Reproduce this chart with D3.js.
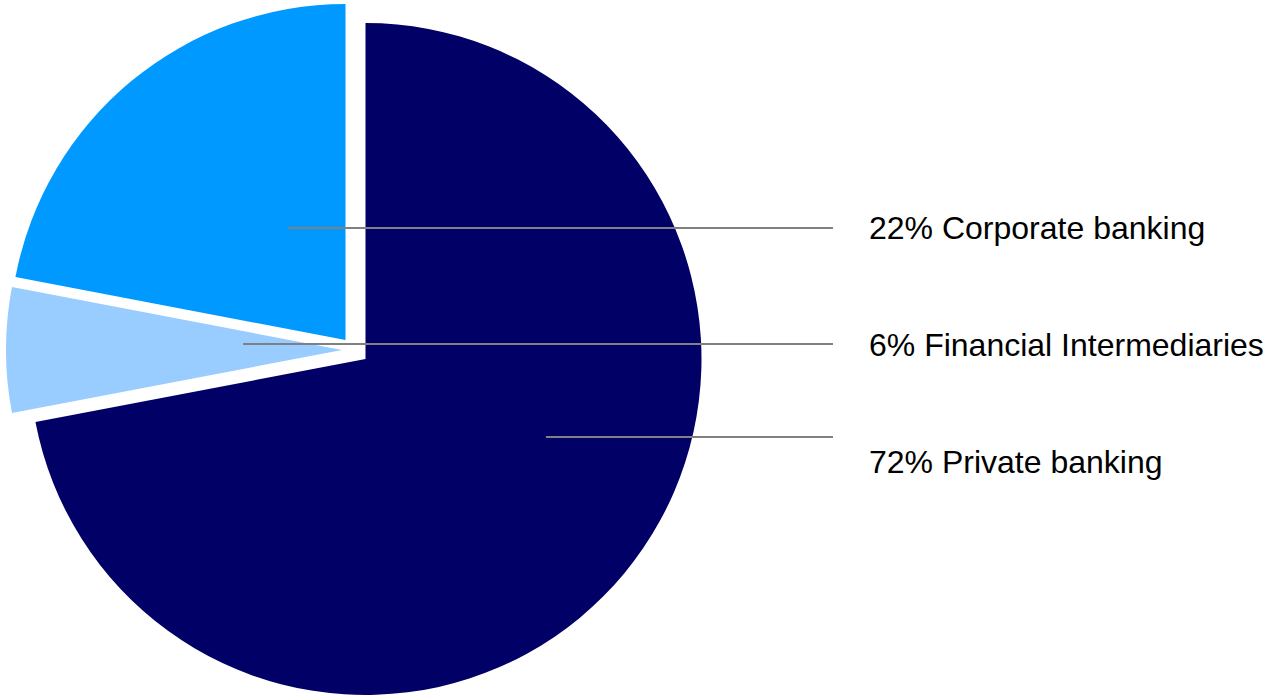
<!DOCTYPE html>
<html>
<head>
<meta charset="utf-8">
<script src="https://cdn.jsdelivr.net/npm/d3@7"></script>
<style>
  body { margin: 0; background: #fff; }
</style>
</head>
<body>
<div id="chart"></div>
<script>
// slices go clockwise from 12 o'clock in this order
var segments = ["Private banking", "Financial Intermediaries", "Corporate banking"]
var shares = [72, 6, 22]
var colors = ["#000066", "#99CCFF", "#0099FF"]

// legend rows, top to bottom
var legendOrder = ["Corporate banking", "Financial Intermediaries", "Private banking"]

var width = 1264
var height = 696
var cx = 365.5
var cy = 359
var radius = 336

// how far each slice is pulled out of the pie
var explode = {
  "Private banking": [0, 0],
  "Financial Intermediaries": [-23.5, -9],
  "Corporate banking": [-20, -19]
}
// where each leader line starts inside its slice (angle in degrees, share of radius)
var anchor = {
  "Private banking": [113.4, 0.585],
  "Financial Intermediaries": [273.5, 0.295],
  "Corporate banking": [332.8, 0.375]
}

var data = segments.map(function(s, i) {
  return { name: s, value: shares[i], color: colors[i] }
})

var svg = d3.select("#chart")
  .append("svg")
    .attr("width", width)
    .attr("height", height)

var pie = d3.pie()
  .sort(null)
  .value(function(d) { return d.value })

var arc = d3.arc()
  .innerRadius(0)
  .outerRadius(radius)

var arcs = pie(data)

svg.append("g")
  .selectAll("path")
  .data(arcs)
  .enter()
  .append("path")
    .attr("transform", function(d) {
      var o = explode[d.data.name]
      return "translate(" + (cx + o[0]) + "," + (cy + o[1]) + ")"
    })
    .attr("d", arc)
    .attr("fill", function(d) { return d.data.color })

var rowY = d3.scalePoint()
  .domain(legendOrder)
  .range([227, 461])

var lineEnd = 833
var textX = 869

function anchorPoint(name) {
  var o = explode[name]
  var a = anchor[name][0] * Math.PI / 180
  var r = anchor[name][1] * radius
  return [cx + o[0] + r * Math.sin(a), cy + o[1] - r * Math.cos(a)]
}

svg.append("g")
  .selectAll("line")
  .data(arcs)
  .enter()
  .append("line")
    .attr("x1", function(d) { return anchorPoint(d.data.name)[0] })
    .attr("y1", function(d) { return anchorPoint(d.data.name)[1] })
    .attr("x2", lineEnd)
    .attr("y2", function(d) { return anchorPoint(d.data.name)[1] })
    .attr("stroke", "#808080")
    .attr("stroke-width", 2)

svg.append("g")
  .selectAll("text")
  .data(arcs)
  .enter()
  .append("text")
    .attr("x", textX)
    .attr("y", function(d) { return rowY(d.data.name) })
    .attr("dy", "0.36em")
    .style("font-family", "Arial, 'Liberation Sans', sans-serif")
    .style("font-size", "32px")
    .style("fill", "#000")
    .text(function(d) { return d.data.value + "% " + d.data.name })
</script>
</body>
</html>
